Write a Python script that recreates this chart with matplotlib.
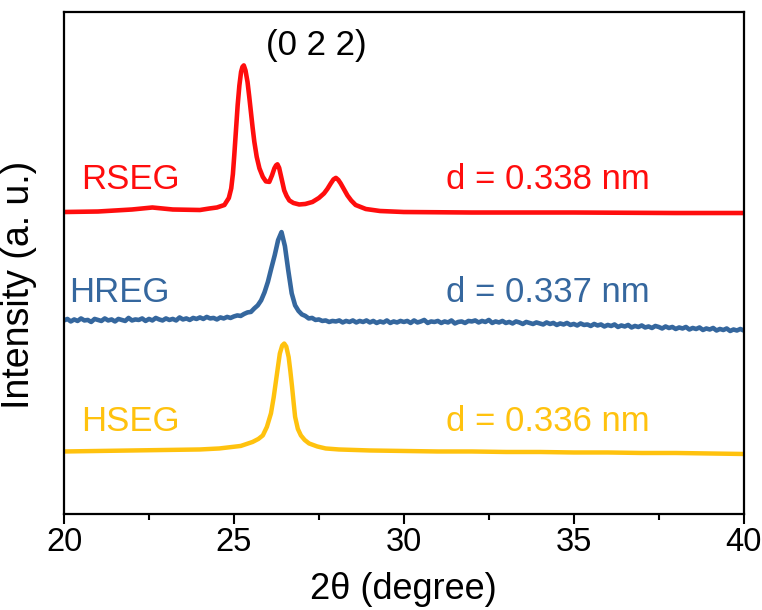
import numpy as np
import matplotlib.pyplot as plt
from matplotlib.ticker import MultipleLocator

plt.rcParams["font.family"] = ["Liberation Sans", "DejaVu Sans"]

# RSEG trace (2theta, offset intensity in a.u.)
rseg_x = [20.0, 21.0, 22.0, 22.6, 23.2, 24.0, 24.28, 24.5, 24.72, 24.85,
          24.92, 24.97, 25.01, 25.06, 25.11, 25.16, 25.21, 25.25, 25.29,
          25.34, 25.4, 25.45, 25.5, 25.55, 25.6, 25.67, 25.75, 25.85, 25.94,
          26.04, 26.12, 26.19, 26.24, 26.28, 26.33, 26.38, 26.48, 26.55,
          26.63, 26.75, 26.92, 27.1, 27.31, 27.5, 27.65, 27.75, 27.85, 27.93,
          28.0, 28.07, 28.14, 28.24, 28.34, 28.45, 28.58, 28.88, 29.3, 30.0,
          32.0, 35.0, 38.0, 40.0]
rseg_y = [60.2, 60.3, 60.7, 61.1, 60.7, 60.6, 60.9, 61.1, 61.6, 63.0,
          64.9, 67.8, 71.5, 76.5, 81.5, 85.4, 88.1, 89.1, 89.4,
          88.4, 86.1, 83.2, 80.1, 77.0, 74.2, 71.2, 68.9, 67.2, 66.3,
          66.2, 67.5, 68.9, 69.5, 69.7, 69.0, 67.5, 64.5, 63.4,
          62.5, 62.0, 61.7, 61.8, 62.2, 63.0, 63.9, 64.8, 65.9, 66.7,
          67.0, 66.6, 65.9, 64.7, 63.5, 62.5, 61.6, 60.8, 60.4, 60.2,
          60.1, 60.1, 60.0, 60.0]

# HREG trace, sampled every 0.1 degree from 20 to 40
hreg_x = np.linspace(20, 40, 201)
hreg_y = [
    38.6, 38.9, 38.4, 38.8, 38.5, 39.0, 38.6, 38.7, 38.3, 38.9,
    38.7, 38.5, 39.0, 38.6, 38.8, 38.4, 38.9, 38.7, 38.5, 39.1,
    38.6, 38.8, 38.7, 39.0, 38.5, 38.9, 38.6, 39.1, 38.8, 38.6,
    39.0, 38.7, 38.9, 38.6, 39.2, 38.8, 39.0, 38.7, 39.1, 38.9,
    39.2, 38.9, 39.3, 39.0, 39.1, 38.8, 39.2, 39.0, 39.3, 39.1,
    39.4, 39.6, 39.5, 39.9, 40.2, 40.3, 41.0, 41.6, 42.6, 44.2,
    46.3, 49.0, 51.6, 54.6, 56.2, 53.4, 48.5, 44.0, 41.6, 40.5,
    39.8, 39.5, 39.0, 39.1, 38.7, 38.8, 38.5, 38.6, 38.3, 38.5,
    38.4, 38.6, 38.2, 38.5, 38.3, 38.6, 38.2, 38.5, 38.3, 38.6,
    38.2, 38.5, 38.1, 38.4, 38.2, 38.6, 38.1, 38.4, 38.2, 38.5,
    38.3, 38.5, 38.1, 38.6, 38.2, 38.4, 38.7, 38.1, 38.4, 38.3,
    38.5, 38.1, 38.4, 38.2, 38.6, 38.0, 38.3, 38.4, 38.1, 38.5,
    38.4, 38.6, 38.2, 38.5, 38.3, 38.7, 38.1, 38.4, 38.2, 38.5,
    38.1, 38.3, 38.0, 38.4, 38.2, 37.9, 38.3, 38.1, 37.9, 38.2,
    38.0, 37.8, 38.2, 37.9, 38.1, 37.7, 38.0, 37.8, 38.1, 37.7,
    37.9, 37.6, 38.0, 37.7, 37.8, 37.5, 37.9, 37.6, 37.8, 37.4,
    37.7, 37.5, 37.8, 37.3, 37.6, 37.4, 37.7, 37.2, 37.5, 37.3,
    37.6, 37.2, 37.4, 37.1, 37.5, 37.3, 37.0, 37.4, 37.1, 37.3,
    36.9, 37.2, 37.0, 37.3, 36.8, 37.1, 36.9, 37.2, 36.7, 37.0,
    36.8, 37.1, 36.6, 36.9, 36.7, 37.0, 36.5, 36.8, 36.6, 36.9, 36.6,
]

# HSEG trace
hseg_x = [20.0, 21.0, 22.0, 23.0, 24.0, 24.57, 25.2, 25.55, 25.72, 25.85,
          25.97, 26.09, 26.17, 26.24, 26.3, 26.35, 26.42, 26.48, 26.54,
          26.61, 26.66, 26.71, 26.76, 26.8, 26.88, 26.97, 27.08, 27.21,
          27.45, 27.7, 28.09, 29.0, 30.0, 31.0, 32.0, 33.0, 34.0, 35.0,
          36.0, 37.0, 38.0, 39.0, 40.0]
hseg_y = [12.5, 12.6, 12.7, 12.8, 12.9, 13.1, 13.6, 14.4, 15.0, 15.7,
          17.4, 20.1, 23.3, 26.7, 29.6, 32.0, 33.6, 34.0, 33.4,
          31.3, 28.5, 25.4, 22.0, 19.4, 17.0, 15.7, 14.8, 14.1,
          13.5, 13.1, 12.9, 12.7, 12.6, 12.5, 12.5, 12.4, 12.4, 12.3,
          12.3, 12.2, 12.2, 12.1, 12.0]

names = ["RSEG", "HREG", "HSEG"]
d_labels = ["d = 0.338 nm", "d = 0.337 nm", "d = 0.336 nm"]
colors = ["#FF0D0D", "#35679E", "#FFC20E"]
label_y = [66.7, 44.2, 18.4]
label_x = [20.5, 20.15, 20.5]

fig = plt.figure(figsize=(7.62, 6.10), dpi=100)
ax = fig.add_axes([0.084, 0.157, 0.892, 0.823])

ax.plot(rseg_x, rseg_y, color=colors[0], lw=3.3, solid_joinstyle="round")
ax.plot(hreg_x, hreg_y, color=colors[1], lw=3.3, solid_joinstyle="round")
ax.plot(hseg_x, hseg_y, color=colors[2], lw=3.2, solid_joinstyle="round")

for i in range(3):
    ax.text(label_x[i], label_y[i], names[i], color=colors[i], fontsize=25,
            va="center", ha="left")
    ax.text(31.25, label_y[i], d_labels[i], color=colors[i], fontsize=25,
            va="center", ha="left")

ax.text(27.43, 93.3, "(0 2 2)", fontsize=25, ha="center", va="center")

ax.set_xlim(20, 40)
ax.set_ylim(0, 100)
ax.set_yticks([])
ax.xaxis.set_major_locator(MultipleLocator(5))
ax.xaxis.set_minor_locator(MultipleLocator(2.5))
ax.tick_params(axis="x", which="major", direction="out", length=7, width=1.5,
               labelsize=23.5, pad=2)
ax.tick_params(axis="x", which="minor", direction="out", length=4, width=1.5)
for s in ax.spines.values():
    s.set_linewidth(1.6)

ax.set_xlabel("2θ (degree)", fontsize=26, labelpad=10)
ax.set_ylabel("Intensity (a. u.)", fontsize=27)
ax.yaxis.set_label_coords(-0.066, 0.456)
ax.yaxis.label.set_verticalalignment("center")

fig.savefig("out.png", dpi=100)
